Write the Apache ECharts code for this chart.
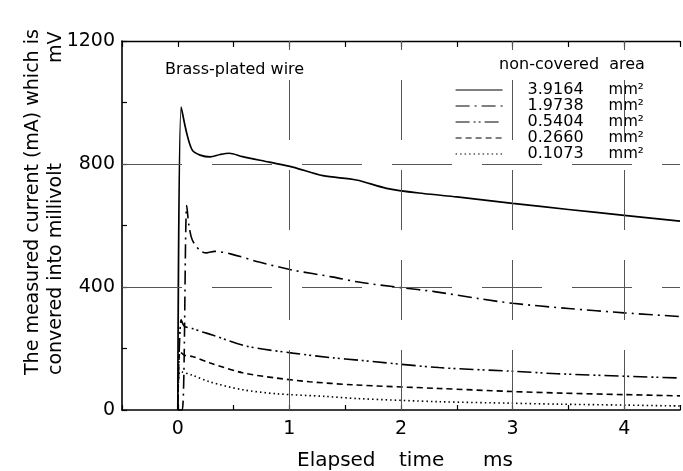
<!DOCTYPE html>
<html>
<head>
<meta charset="utf-8">
<script src="https://cdn.jsdelivr.net/npm/echarts@6/dist/echarts.min.js"></script>
<style>html,body{margin:0;padding:0;background:#fff}#c{width:683px;height:471px}</style>
</head>
<body>
<div id="c"></div>
<script>
// non-covered area (mm²) for each curve
const seriesNames = ['3.9164', '1.9738', '0.5404', '0.2660', '0.1073'];
// [elapsed time (ms), measured value (mV)]
const s3_9164 = [[0,0],[0.03,985],[0.08,900],[0.13,845],[0.2,829],[0.29,823],[0.38,831],[0.46,835],[0.58,824],[0.82,806],[1.03,790],[1.3,762],[1.6,748],[1.87,721],[2.2,704],[2.5,693],[3,672],[3.5,652],[4,633],[4.5,614]];
const s1_9738 = [[0,0],[0.04,0],[0.08,665],[0.1,600],[0.13,553],[0.2,518],[0.26,511],[0.33,516],[0.48,507],[0.73,481],[1.03,455],[1.38,433],[1.62,416],[2.0,398],[2.3,385],[2.7,362],[3,347],[3.5,330],[4,316],[4.5,304]];
const s0_5404 = [[0,0],[0.03,293],[0.06,272],[0.13,265],[0.22,254],[0.31,244],[0.61,208],[1.03,185],[1.38,170],[1.62,162],[2.34,138],[3,126],[3.4,118],[4,110],[4.5,104]];
const s0_2660 = [[0,0],[0.02,190],[0.06,178],[0.13,174],[0.29,153],[0.58,121],[0.88,104],[1.18,92],[1.56,82],[2.34,70],[3,60],[3.44,55],[4,50],[4.5,46]];
const s0_1073 = [[0,0],[0.02,125],[0.13,113],[0.29,91],[0.58,66],[0.88,53],[1.33,44],[1.62,37],[2.34,27],[3,22],[3.4,19],[4,16],[4.5,13]];
const seriesData = [s3_9164, s1_9738, s0_5404, s0_2660, s0_1073];
const dashTypes = ['solid', [14,5,2,5], [14,4,2,3,2,4], [6,4], [1.5,3]];
// axis ranges and ticks
const xMin = -0.5, xMax = 4.5, xStep = 0.5;
const yMin = 0, yMax = 1200, yStep = 200, yLabelStep = 400;
const gridTimes = [1, 2, 3, 4];
const gridValues = [400, 800];

const FONT = '"DejaVu Sans", sans-serif';
const chart = echarts.init(document.getElementById('c'), null, {renderer: 'canvas'});

const series = seriesNames.map((name, i) => ({
  name: name,
  type: 'line',
  data: seriesData[i],
  showSymbol: false,
  symbol: 'none',
  smooth: 0.3,
  lineStyle: {color: '#000', width: i === 0 ? 1.7 : 1.6, type: dashTypes[i]},
  itemStyle: {color: '#000'},
  z: 3
}));
series[4].markLine = {
  silent: true,
  symbol: 'none',
  label: {show: false},
  lineStyle: {color: '#555', width: 1, type: [60, 30]},
  data: gridTimes.map(t => ({xAxis: t})).concat(gridValues.map(v => ({yAxis: v})))
};

const txt = (text, x, y, size, align, rot) => ({
  type: 'text', x: x, y: y, rotation: rot || 0,
  style: {text: text, font: size + 'px ' + FONT, fill: '#000',
          textAlign: align, textVerticalAlign: 'middle', align: align, verticalAlign: 'middle'}
});

chart.setOption({
  backgroundColor: '#fff',
  animation: false,
  grid: {left: 122, right: 0, top: 41, bottom: 61, containLabel: false},
  legend: {
    data: seriesNames,
    orient: 'vertical',
    left: 455, top: 82,
    padding: 0,
    itemGap: 0,
    itemWidth: 47, itemHeight: 15,
    itemStyle: {opacity: 0, borderWidth: 0},
    lineStyle: {width: 1.2},
    formatter: name => '{a|' + name + '}{b|mm²}',
    textStyle: {
      fontFamily: FONT, fontSize: 16, color: '#000', lineHeight: 15,
      rich: {
        a: {fontFamily: FONT, fontSize: 16, color: '#000', width: 81, padding: [0,0,0,20], lineHeight: 15},
        b: {fontFamily: FONT, fontSize: 15, color: '#000', lineHeight: 15}
      }
    }
  },
  xAxis: [{
    type: 'value', min: xMin, max: xMax, interval: xStep, position: 'bottom',
    axisLine: {show: true, onZero: false, lineStyle: {color: '#000', width: 1.6}},
    axisTick: {show: true, inside: true, length: 5, lineStyle: {color: '#000', width: 1.2}},
    axisLabel: {
      color: '#000', fontFamily: FONT, fontSize: 19, margin: 10,
      formatter: v => (Number.isInteger(v) ? String(v) : '')
    },
    splitLine: {show: false}
  }, {
    type: 'value', min: xMin, max: xMax, interval: xStep, position: 'top',
    axisLine: {show: true, onZero: false, lineStyle: {color: '#000', width: 1.4}},
    axisTick: {show: true, inside: true, length: 6, lineStyle: {color: '#000', width: 1.2}},
    axisLabel: {show: false},
    splitLine: {show: false}
  }],
  yAxis: {
    type: 'value', min: yMin, max: yMax, interval: yStep, position: 'left',
    axisLine: {show: true, onZero: false, lineStyle: {color: '#000', width: 1.6}},
    axisTick: {show: true, inside: true, length: 5, lineStyle: {color: '#000', width: 1.2}},
    axisLabel: {
      color: '#000', fontFamily: FONT, fontSize: 19, margin: 7,
      formatter: v => (v % yLabelStep === 0 ? String(v) : '')
    },
    splitLine: {show: false}
  },
  graphic: [
    txt('The measured current (mA) which is', 33, 375, 19, 'left', Math.PI / 2),
    txt('convered into millivolt', 56, 375, 19, 'left', Math.PI / 2),
    txt('mV', 56, 63, 19, 'left', Math.PI / 2),
    txt('Brass-plated wire', 165, 70, 16, 'left'),
    txt('non-covered  area', 572, 65, 16, 'center'),
    txt('Elapsed', 297, 461, 20, 'left'),
    txt('time', 399, 461, 20, 'left'),
    txt('ms', 483, 461, 20, 'left')
  ],
  series: series
});
</script>
</body>
</html>
